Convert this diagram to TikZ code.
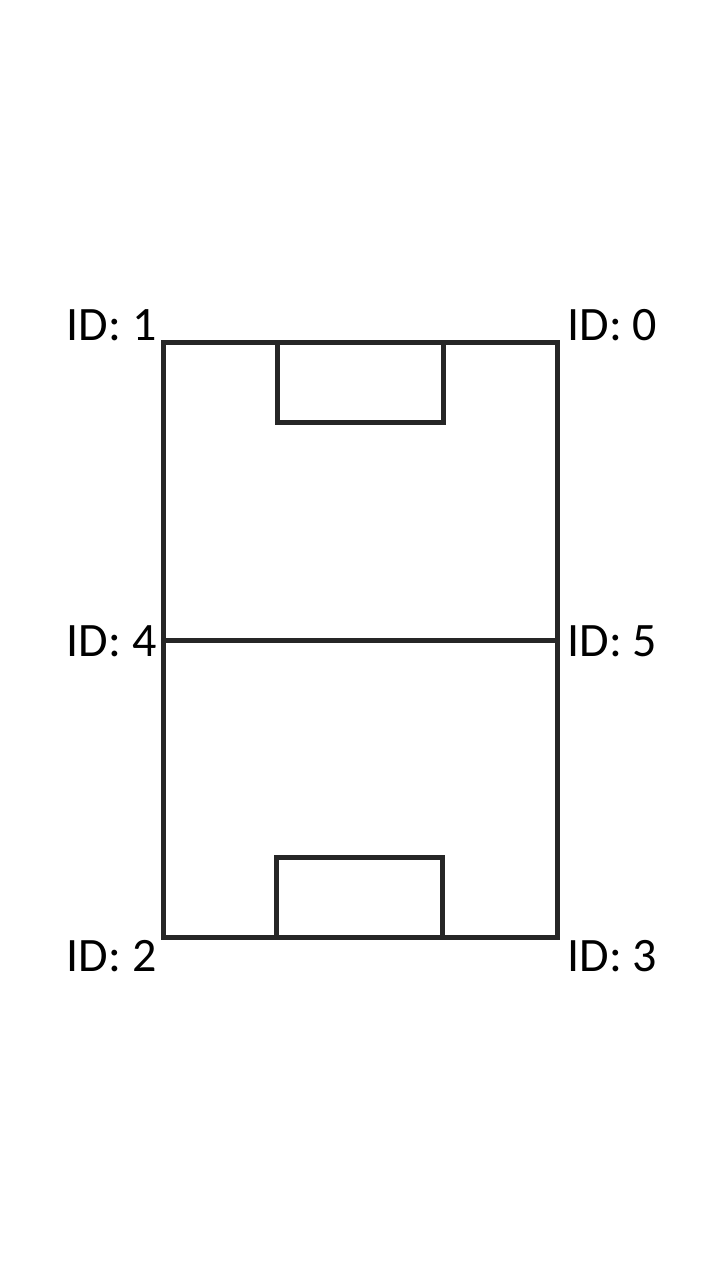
\documentclass[tikz,border=0pt]{standalone}
\usepackage{fontspec}
\setmainfont{Carlito}
\usepackage{tikz}
\definecolor{fieldline}{HTML}{262626}

\begin{document}
\begin{tikzpicture}[x=1pt, y=-1pt, line width=5pt,
		idlabel/.style={inner sep=0pt, font=\fontsize{48}{58}\selectfont}]
		\useasboundingbox (0,0) rectangle (720,1280);
		% field corners
		\coordinate (c1) at (163,342);
		\coordinate (c0) at (557,342);
		\coordinate (c4) at (163,640);
		\coordinate (c5) at (557,640);
		\coordinate (c2) at (163,937);
		\coordinate (c3) at (557,937);
		% goal boxes
		\coordinate (gtop1) at (277,342);
		\coordinate (gtop2) at (443,422);
		\coordinate (gbot1) at (276,857);
		\coordinate (gbot2) at (442,937);
		\draw [fieldline] (c1) rectangle (c3);
		\draw [fieldline] (c4) -- (c5);
		\draw [fieldline] (gtop1) rectangle (gtop2);
		\draw [fieldline] (gbot1) rectangle (gbot2);
		\node [idlabel, anchor=base east] (id1) at (159,340) {ID: 1};
		\node [idlabel, anchor=base west] (id0) at (565,340) {ID: 0};
		\node [idlabel, anchor=base east] (id4) at (159,656) {ID: 4};
		\node [idlabel, anchor=base west] (id5) at (565,656) {ID: 5};
		\node [idlabel, anchor=base east] (id2) at (159,971) {ID: 2};
		\node [idlabel, anchor=base west] (id3) at (565,971) {ID: 3};
	\end{tikzpicture}
\end{document}
